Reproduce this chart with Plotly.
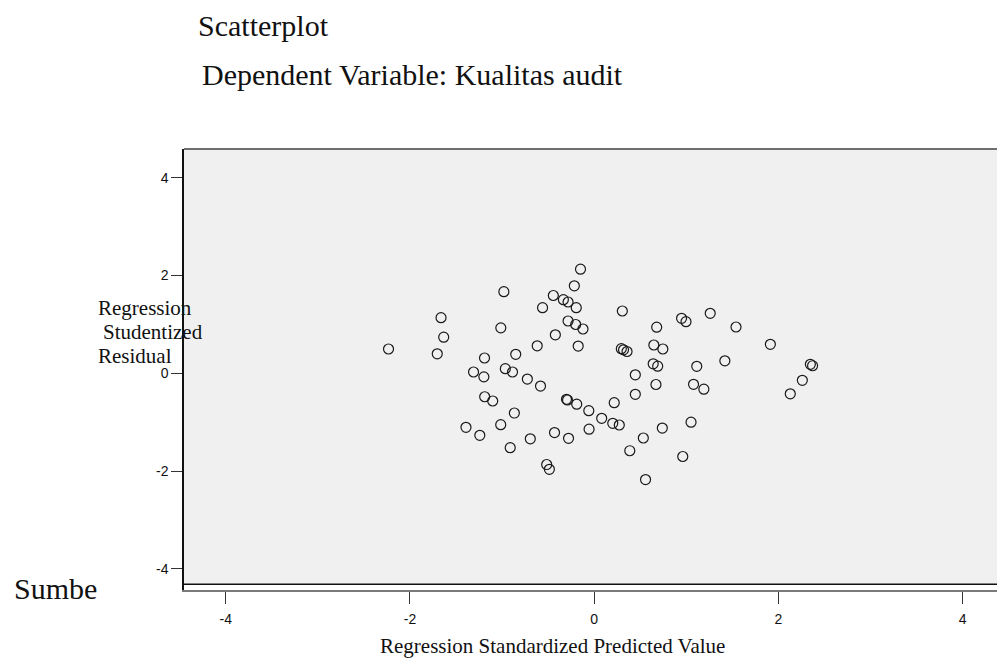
import plotly.graph_objects as go

# ---- data ----
pred = [-0.149, -0.216, -0.981, -0.444, -0.335, -0.284, -0.195, -0.561, -1.663, -0.284,
        -0.201, -0.122, -1.014, -1.634, -0.422, -2.233, -1.704, -0.619, -0.174, -1.191,
        -0.852, -1.310, -0.965, -0.887, -1.198, -0.726, -0.583, -1.189, -1.102, -0.301,
        -0.290, -0.190, -0.059, -0.867, -1.392, -1.242, -1.015, -0.694, -0.912, -0.431,
        -0.279, -0.056, -0.516, -0.487, 0.305, 0.678, 0.948, 0.996, 1.259, 1.539,
        1.912, 0.294, 0.318, 0.356, 0.647, 0.745, 0.640, 0.689, 1.113, 1.418,
        0.446, 0.670, 1.078, 1.190, 2.346, 2.370, 2.259, 2.128, 0.081, 0.217,
        0.446, 0.201, 0.272, 0.739, 1.051, 0.533, 0.386, 0.961, 0.557]
resid = [2.130, 1.790, 1.670, 1.592, 1.506, 1.459, 1.343, 1.343, 1.138, 1.071,
         0.999, 0.907, 0.931, 0.739, 0.788, 0.498, 0.400, 0.563, 0.559, 0.314,
         0.390, 0.028, 0.095, 0.028, -0.071, -0.116, -0.259, -0.478, -0.565, -0.531,
         -0.545, -0.631, -0.764, -0.811, -1.103, -1.267, -1.050, -1.338, -1.520, -1.210,
         -1.328, -1.142, -1.864, -1.962, 1.275, 0.944, 1.126, 1.056, 1.228, 0.948,
         0.594, 0.504, 0.482, 0.447, 0.580, 0.498, 0.195, 0.146, 0.144, 0.257,
         -0.030, -0.228, -0.224, -0.324, 0.185, 0.156, -0.142, -0.418, -0.919, -0.600,
         -0.428, -1.021, -1.056, -1.118, -0.999, -1.322, -1.582, -1.700, -2.171]

tick_vals = [-4, -2, 0, 2, 4]
tick_text = ["-4", "-2", "0", "2", "4"]

title_1 = "Scatterplot"
title_2 = "Dependent Variable: Kualitas audit"
y_title_lines = ["Regression", "Studentized", "Residual"]
x_title = "Regression Standardized Predicted Value"
side_text = "Sumbe"

# ---- layout geometry ----
W, H = 997, 660
L, R, T, B = 184, 0, 149, 70
PW, PH = W - L - R, H - T - B


def px(xp):
    return (xp - L) / PW


def py(yp):
    return (H - B - yp) / PH


SERIF = "Liberation Serif, Times New Roman, serif"
SANS = "Liberation Sans, Arial, sans-serif"

fig = go.Figure(
    go.Scatter(
        x=pred, y=resid, mode="markers",
        marker=dict(symbol="circle-open", size=10, color="#1a1a1a",
                    line=dict(width=1.2)),
        hoverinfo="skip", showlegend=False,
    )
)

fill_bottom = -4.314

fig.update_layout(
    width=W, height=H,
    margin=dict(l=L, r=R, t=T, b=B, pad=0),
    paper_bgcolor="white", plot_bgcolor="white",
    xaxis=dict(range=[-4.453, 4.372], tickvals=tick_vals, ticktext=tick_text,
               showgrid=False, zeroline=False, showline=True, linecolor="#7a7a7a",
               linewidth=2, ticks="outside", ticklen=12, tickwidth=1, tickcolor="#333",
               tickfont=dict(family=SANS, size=14, color="#111"),
               ticklabelstandoff=3, fixedrange=True),
    yaxis=dict(range=[-4.430, 4.588], tickvals=tick_vals, ticktext=tick_text,
               showgrid=False, zeroline=False, showline=True, linecolor="#111",
               linewidth=1.5, ticks="outside", ticklen=11, tickwidth=1, tickcolor="#333",
               tickfont=dict(family=SANS, size=14, color="#111"), fixedrange=True),
    shapes=[
        dict(type="rect", xref="paper", yref="y", x0=0, x1=1, y0=fill_bottom, y1=4.588,
             fillcolor="#f0f0f0", line=dict(width=0), layer="below"),
        dict(type="line", xref="paper", yref="y", x0=0, x1=1, y0=fill_bottom, y1=fill_bottom,
             line=dict(color="#111", width=1.5)),
        dict(type="line", xref="paper", yref="paper", x0=0, x1=1, y0=1, y1=1,
             line=dict(color="#6e6e6e", width=2)),
    ],
    annotations=[
        dict(text=title_1, xref="paper", yref="paper", x=px(196), y=py(26),
             xanchor="left", yanchor="middle", showarrow=False,
             font=dict(family=SERIF, size=30, color="#111")),
        dict(text=title_2, xref="paper", yref="paper", x=px(200), y=py(74),
             xanchor="left", yanchor="middle", showarrow=False,
             font=dict(family=SERIF, size=30, color="#111")),
        dict(text=y_title_lines[0], xref="paper", yref="paper", x=px(96), y=py(308),
             xanchor="left", yanchor="middle", showarrow=False,
             font=dict(family=SERIF, size=21, color="#111")),
        dict(text=y_title_lines[1], xref="paper", yref="paper", x=px(101), y=py(332),
             xanchor="left", yanchor="middle", showarrow=False,
             font=dict(family=SERIF, size=21, color="#111")),
        dict(text=y_title_lines[2], xref="paper", yref="paper", x=px(96), y=py(356),
             xanchor="left", yanchor="middle", showarrow=False,
             font=dict(family=SERIF, size=21, color="#111")),
        dict(text=x_title, xref="paper", yref="paper", x=px(552.5), y=py(646),
             xanchor="center", yanchor="middle", showarrow=False,
             font=dict(family=SERIF, size=21, color="#111")),
        dict(text=side_text, xref="paper", yref="paper", x=px(12), y=py(588),
             xanchor="left", yanchor="middle", showarrow=False,
             font=dict(family=SERIF, size=30, color="#111")),
    ],
)

fig.write_html("out.html", config=dict(displayModeBar=False))
